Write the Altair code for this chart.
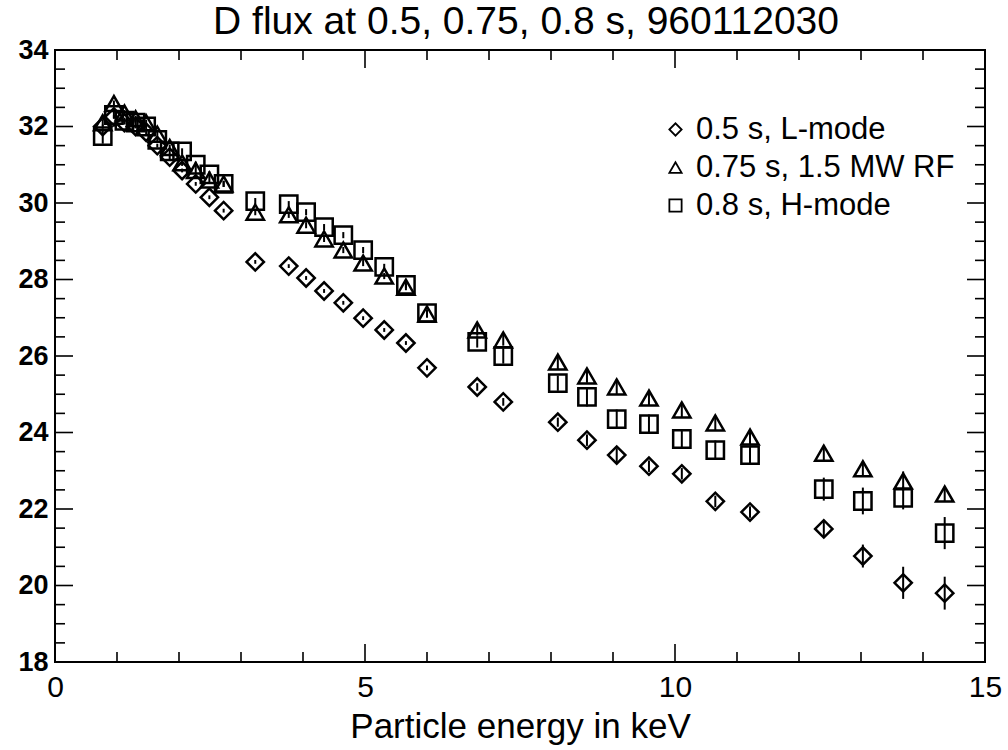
import altair as alt
import pandas as pd

# ---------------- data ----------------
energy = [0.77, 0.95, 1.12, 1.30, 1.47, 1.65, 1.85, 2.05, 2.27, 2.49, 2.72,
          3.23, 3.77, 4.05, 4.34, 4.65, 4.97, 5.31, 5.66, 6.00, 6.81, 7.23,
          8.11, 8.58, 9.06, 9.58, 10.11, 10.65, 11.21, 12.40, 13.03, 13.68, 14.35]

flux_L = [32.0, 32.25, 32.1, 32.0, 31.85, 31.5, 31.2, 30.85, 30.5, 30.15, 29.8,
          28.46, 28.35, 28.04, 27.70, 27.39, 26.99, 26.68, 26.34, 25.69, 25.19, 24.80,
          24.27, 23.80, 23.41, 23.12, 22.92, 22.20, 21.92, 21.48, 20.77, 20.07, 19.80]
flux_RF = [32.1, 32.6, 32.35, 32.2, 32.1, 31.8, 31.45, 31.05, 30.85, 30.6, 30.5,
           29.76, 29.69, 29.42, 29.06, 28.77, 28.43, 28.09, 27.80, 27.10, 26.68, 26.42,
           25.84, 25.48, 25.19, 24.90, 24.59, 24.25, 23.88, 23.46, 23.05, 22.73, 22.39]
flux_H = [31.75, 32.3, 32.15, 32.1, 32.0, 31.65, 31.35, 31.35, 31.0, 30.75, 30.5,
          30.05, 29.97, 29.76, 29.37, 29.16, 28.77, 28.33, 27.86, 27.12, 26.37, 26.00,
          25.29, 24.93, 24.35, 24.22, 23.83, 23.54, 23.41, 22.52, 22.21, 22.29, 21.37]

err_L = [0.05, 0.05, 0.05, 0.05, 0.05, 0.05, 0.05, 0.05, 0.05, 0.05, 0.05,
         0.05, 0.05, 0.05, 0.05, 0.05, 0.05, 0.05, 0.05, 0.06, 0.10, 0.10,
         0.12, 0.15, 0.18, 0.15, 0.15, 0.15, 0.15, 0.20, 0.30, 0.42, 0.43]
err_RF = [0.08, 0.08, 0.08, 0.08, 0.08, 0.08, 0.08, 0.08, 0.08, 0.08, 0.08,
          0.08, 0.08, 0.08, 0.08, 0.08, 0.08, 0.08, 0.08, 0.10, 0.15, 0.15,
          0.18, 0.18, 0.20, 0.20, 0.20, 0.20, 0.20, 0.20, 0.20, 0.25, 0.20]
err_H = [0.20, 0.08, 0.08, 0.08, 0.08, 0.08, 0.08, 0.08, 0.08, 0.08, 0.08,
         0.08, 0.08, 0.08, 0.08, 0.08, 0.08, 0.08, 0.08, 0.10, 0.15, 0.20,
         0.20, 0.25, 0.25, 0.25, 0.25, 0.25, 0.25, 0.30, 0.35, 0.30, 0.42]

series_names = ["0.5 s, L-mode", "0.75 s, 1.5 MW RF", "0.8 s, H-mode"]
series_shapes = ["diamond", "triangle-up", "square"]

x_major = [0, 5, 10, 15]
x_minor = [1, 2, 3, 4, 6, 7, 8, 9, 11, 12, 13, 14]
y_major = [18, 20, 22, 24, 26, 28, 30, 32, 34]
y_minor = [18.5, 19, 19.5, 20.5, 21, 21.5, 22.5, 23, 23.5, 24.5, 25, 25.5,
           26.5, 27, 27.5, 28.5, 29, 29.5, 30.5, 31, 31.5, 32.5, 33, 33.5]

# ---------------- tables ----------------
rows = []
for name, vals, errs in zip(series_names, [flux_L, flux_RF, flux_H], [err_L, err_RF, err_H]):
    for e, v, d in zip(energy, vals, errs):
        rows.append({"energy": e, "flux": v, "lo": v - d, "hi": v + d, "series": name})
df = pd.DataFrame(rows)

W, H = 930, 612
FONT = "Liberation Sans"

x_scale = alt.Scale(domain=[0, 15], nice=False, zero=False)
y_scale = alt.Scale(domain=[18, 34], nice=False, zero=False)

x_axis = alt.Axis(values=x_major, title="Particle energy in keV", grid=False,
                  ticks=False, domain=False, labelFontSize=30, labelFont=FONT,
                  labelColor="black", labelPadding=10, titleFont=FONT,
                  titleFontSize=35, titleFontWeight="normal", titleColor="black",
                  titlePadding=7, labelFlush=False, format="d")
y_axis = alt.Axis(values=y_major, title=None, grid=False, ticks=False,
                  domain=False, labelFontSize=27, labelFont=FONT,
                  labelFontWeight="bold", labelColor="black", labelPadding=7,
                  labelFlush=False, format="d")

points = alt.Chart(df).mark_point(
    filled=False, strokeWidth=2.5, size=300, color="black", opacity=1
).encode(
    x=alt.X("energy:Q", scale=x_scale, axis=x_axis),
    y=alt.Y("flux:Q", scale=y_scale, axis=y_axis),
    shape=alt.Shape("series:N",
                    scale=alt.Scale(domain=series_names, range=series_shapes),
                    legend=alt.Legend(title=None, orient="none", legendX=605, legendY=64,
                                      labelFontSize=31, labelFont=FONT, labelColor="black",
                                      symbolSize=150, symbolStrokeWidth=1.8,
                                      symbolStrokeColor="black", symbolFillColor="white",
                                      rowPadding=6, labelOffset=5,
                                      padding=0, labelLimit=400)),
)

errbars = alt.Chart(df).mark_rule(color="black", strokeWidth=2).encode(
    x=alt.X("energy:Q"),
    y=alt.Y("lo:Q"),
    y2="hi:Q",
)


def hticks(vals, length, side):
    d = pd.DataFrame({"v": vals})
    if side == "left":
        xa, xb = alt.value(0), alt.value(length)
    else:
        xa, xb = alt.value(W - length), alt.value(W)
    return alt.Chart(d).mark_rule(color="black", strokeWidth=1.6).encode(
        y=alt.Y("v:Q"), x=xa, x2=xb)


def vticks(vals, length, side):
    d = pd.DataFrame({"v": vals})
    if side == "bottom":
        ya, yb = alt.value(H), alt.value(H - length)
    else:
        ya, yb = alt.value(0), alt.value(length)
    return alt.Chart(d).mark_rule(color="black", strokeWidth=1.6).encode(
        x=alt.X("v:Q"), y=ya, y2=yb)


tick_layers = [
    hticks(y_major, 18, "left"), hticks(y_minor, 10, "left"),
    hticks(y_major, 18, "right"), hticks(y_minor, 10, "right"),
    vticks(x_major, 18, "bottom"), vticks(x_minor, 10, "bottom"),
    vticks(x_major, 18, "top"), vticks(x_minor, 10, "top"),
]

chart = alt.layer(points, errbars, *tick_layers).properties(
    width=W, height=H,
    title=alt.TitleParams("D flux at 0.5, 0.75, 0.8 s, 960112030", fontSize=39,
                          font=FONT, fontWeight="normal", color="black",
                          anchor="middle", offset=-6, dx=6),
    autosize=alt.AutoSizeParams(type="none"),
    padding={"left": 55, "top": 50, "right": 23, "bottom": 88},
    background="white",
).configure_view(
    stroke="black", strokeWidth=2
)

chart.save("out.html", embed_options={"renderer": "svg", "actions": False})
